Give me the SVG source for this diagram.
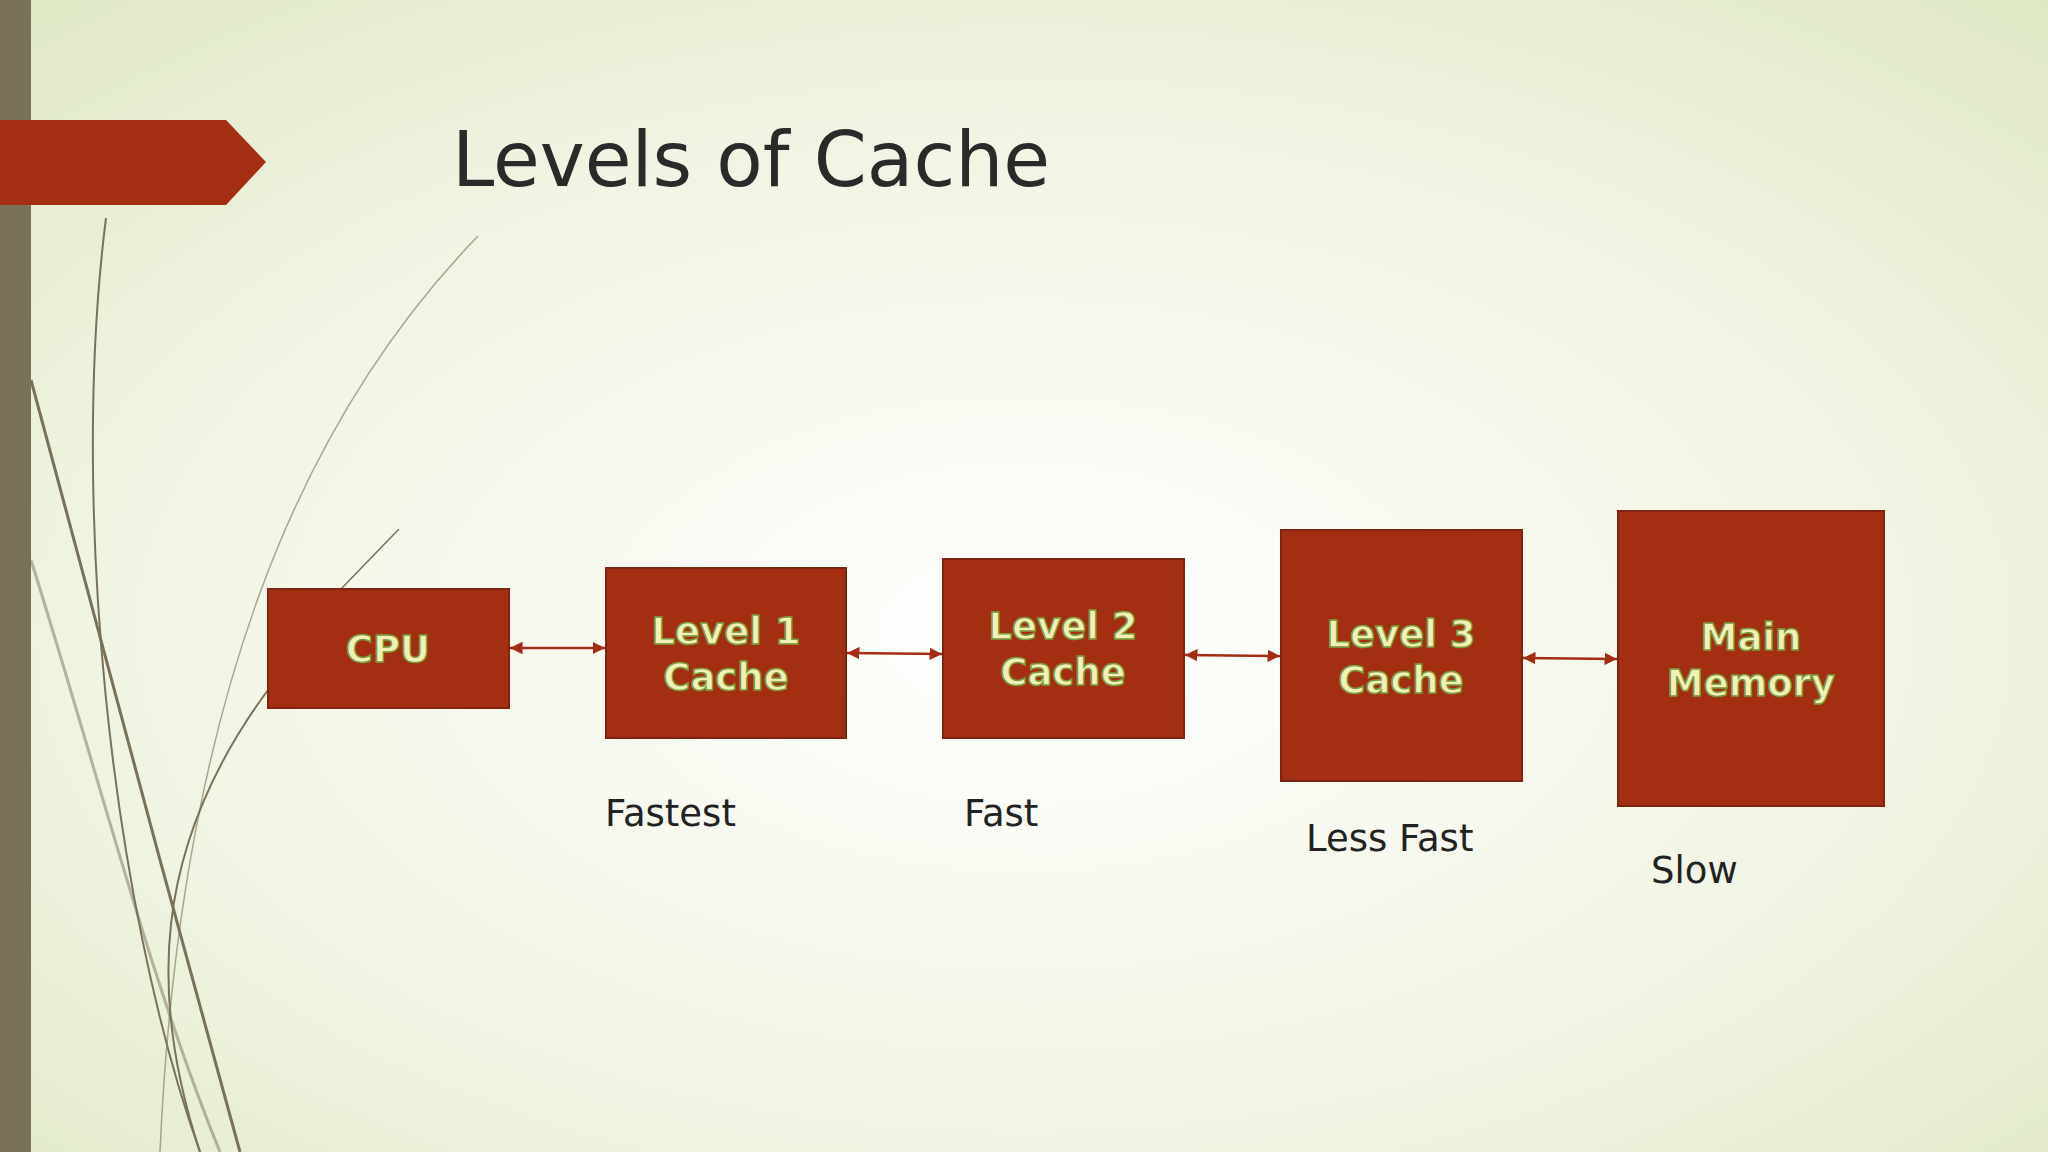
<svg xmlns="http://www.w3.org/2000/svg" width="2048" height="1152" viewBox="0 0 2048 1152">
<defs>
<radialGradient id="bg" cx="0.5" cy="0.55" r="0.75">
<stop offset="0" stop-color="#ffffff"/><stop offset="0.6" stop-color="#f0f4e2"/><stop offset="1" stop-color="#dfe8c4"/>
</radialGradient>
<marker id="ah" viewBox="0 0 10 10" refX="10" refY="5" markerWidth="5" markerHeight="5" orient="auto-start-reverse"><path d="M0,0 L10,5 L0,10 z" fill="#a32c14"/></marker>
<style>
.box{fill:#a32e12;stroke:#7e2410;stroke-width:2}
.bt{font-family:"URW Gothic","Century Gothic","DejaVu Sans",sans-serif;font-size:37px;font-weight:bold;fill:#f2f0b8;stroke:#7a9a3a;stroke-width:1.5;text-anchor:middle}
.lb{font-family:"URW Gothic","Century Gothic","DejaVu Sans",sans-serif;font-size:37px;fill:#222}
.c{stroke:#a32c14;stroke-width:2.5;fill:none;marker-start:url(#ah);marker-end:url(#ah)}
.deco{fill:none;stroke:#7a7258}
</style>
</defs>
<rect width="2048" height="1152" fill="url(#bg)"/>
<g id="decor">
<path class="deco" stroke-width="3" d="M31,380 C90,600 170,900 240,1152"/>
<path class="deco" stroke-width="2" d="M106,218 C70,500 110,900 200,1152"/>
<path class="deco" stroke-width="3" opacity="0.5" d="M31,560 C100,780 150,980 220,1152"/>
<path class="deco" stroke-width="2" d="M268,690 C150,850 150,1000 200,1152"/>
<path class="deco" stroke-width="1.5" opacity="0.6" d="M478,236 C300,420 180,700 160,1152"/>
<path class="deco" stroke-width="1.5" d="M399,529 L340,590"/>
<rect x="0" y="0" width="31" height="1152" fill="#7a7258"/>
<path d="M0,120 L226,120 L266,162 L226,205 L0,205 z" fill="#a32e12"/>
</g>
<text x="452" y="186" font-family="URW Gothic,'Century Gothic','DejaVu Sans',sans-serif" font-size="76" fill="#2a2a2a">Levels of Cache</text>
<g id="connectors">
<line class="c" x1="510" y1="648" x2="605" y2="648"/>
<line class="c" x1="847" y1="653" x2="942" y2="654"/>
<line class="c" x1="1185" y1="655" x2="1280" y2="656"/>
<line class="c" x1="1523" y1="658" x2="1617" y2="659"/>
</g>
<g id="cpu"><rect class="box" x="268" y="589" width="241" height="119"/><text class="bt" x="388" y="662">CPU</text></g>
<g id="l1"><rect class="box" x="606" y="568" width="240" height="170"/><text class="bt" x="726" y="644">Level 1</text><text class="bt" x="726" y="690">Cache</text></g>
<g id="l2"><rect class="box" x="943" y="559" width="241" height="179"/><text class="bt" x="1063" y="639">Level 2</text><text class="bt" x="1063" y="685">Cache</text></g>
<g id="l3"><rect class="box" x="1281" y="530" width="241" height="251"/><text class="bt" x="1401" y="647">Level 3</text><text class="bt" x="1401" y="693">Cache</text></g>
<g id="main"><rect class="box" x="1618" y="511" width="266" height="295"/><text class="bt" x="1751" y="650">Main</text><text class="bt" x="1751" y="696">Memory</text></g>
<g id="labels">
<text class="lb" x="605" y="826">Fastest</text>
<text class="lb" x="964" y="826">Fast</text>
<text class="lb" x="1306" y="851">Less Fast</text>
<text class="lb" x="1651" y="883">Slow</text>
</g>
</svg>
